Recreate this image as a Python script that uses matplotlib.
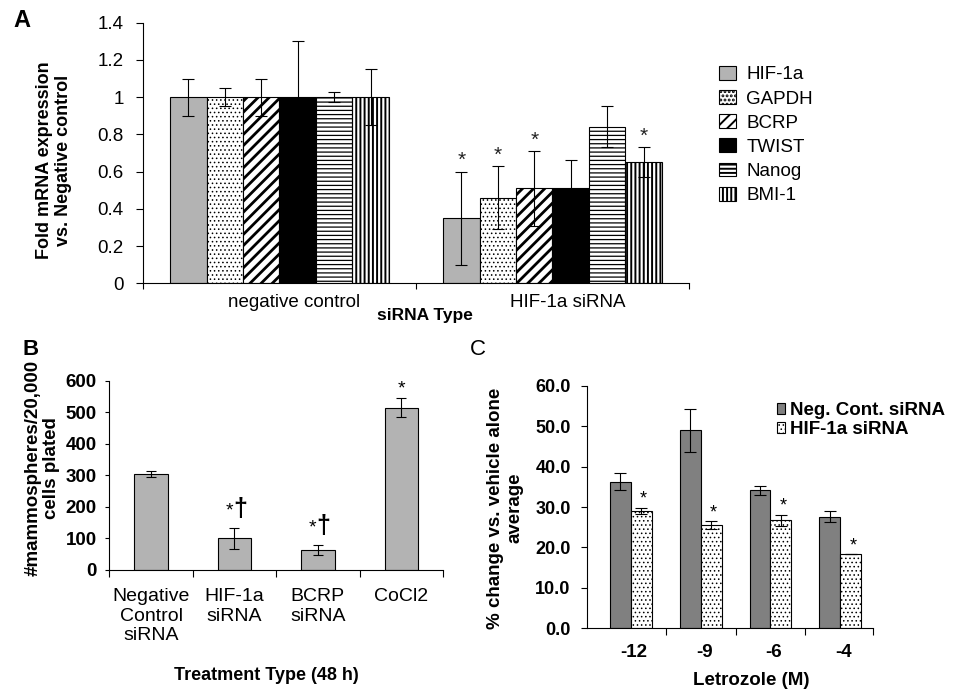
import matplotlib
matplotlib.use("Agg")
import matplotlib.pyplot as plt
import numpy as np
from matplotlib.ticker import FuncFormatter

plt.rcParams['font.family'] = ['Liberation Sans', 'DejaVu Sans']
plt.rcParams['axes.linewidth'] = 0.8
plt.rcParams['hatch.color'] = 'black'

# Panel A - fold mRNA expression vs negative control
sirna_types = ["negative control", "HIF-1a siRNA"]
genes = ["HIF-1a", "GAPDH", "BCRP", "TWIST", "Nanog", "BMI-1"]
neg_ctrl_fold = [1.0, 1.0, 1.0, 1.0, 1.0, 1.0]
neg_ctrl_err = [0.10, 0.05, 0.10, 0.30, 0.025, 0.15]
hif_fold = [0.35, 0.46, 0.51, 0.51, 0.84, 0.65]
hif_fold_err = [0.25, 0.17, 0.20, 0.15, 0.11, 0.08]
hif_signif = [True, True, True, False, False, True]

# Panel B - mammospheres per 20,000 cells
treatments = ["Negative\nControl\nsiRNA", "HIF-1a\nsiRNA", "BCRP\nsiRNA", "CoCl2"]
mammospheres = [305, 100, 62, 515]
mammo_err = [10, 32, 16, 31]
mammo_marks = ["", "*†", "*†", "*"]

# Panel C - letrozole response
letrozole = ["-12", "-9", "-6", "-4"]
neg_cont_change = [36.3, 49.0, 34.1, 27.6]
neg_cont_err = [2.1, 5.3, 1.1, 1.3]
hif_change = [29.0, 25.5, 26.7, 18.3]
hif_change_err = [0.75, 1.0, 1.4, 0.0]

# fill, hatch, hatch linewidth for each gene
gene_styles = [("#b3b3b3", None, 0.8),
               ("white", "....", 0.6),
               ("white", "///", 2.0),
               ("black", None, 0.8),
               ("white", "----", 0.9),
               ("white", "||||", 1.4)]


def set_hatch_lw(patches, lw):
    for p in patches:
        if hasattr(p, "set_hatch_linewidth"):
            p.set_hatch_linewidth(lw)


def clean_axes(ax):
    ax.spines["top"].set_visible(False)
    ax.spines["right"].set_visible(False)


fig = plt.figure(figsize=(9.55, 6.98), dpi=100)

# ---------------- A ----------------
axA = fig.add_axes([0.1497, 0.5941, 0.5717, 0.3734])
xa = np.arange(len(sirna_types))
w = 0.1335
for i, gene in enumerate(genes):
    face, hatch, hlw = gene_styles[i]
    plt.rcParams['hatch.linewidth'] = hlw
    xs = xa + (i - 2.5) * w
    vals = [neg_ctrl_fold[i], hif_fold[i]]
    errs = [neg_ctrl_err[i], hif_fold_err[i]]
    bars = axA.bar(xs, vals, w, color=face, edgecolor="black", linewidth=0.8,
                   hatch=hatch, label=gene, zorder=2)
    set_hatch_lw(bars, hlw)
    axA.errorbar(xs, vals, yerr=errs, fmt="none", ecolor="black",
                 elinewidth=0.8, capsize=4, capthick=0.8, zorder=3)
    if hif_signif[i]:
        axA.annotate("*", (xs[1], hif_fold[i] + hif_fold_err[i]), xytext=(0, 4),
                     textcoords="offset points", ha="center", va="baseline",
                     fontsize=15, color="#222222")

axA.set_xlim(-0.5, 1.5)
axA.set_ylim(0, 1.4)
axA.set_yticks(np.arange(0, 1.41, 0.2))
axA.yaxis.set_major_formatter(FuncFormatter(lambda v, p: f"{v:g}"))
axA.set_xticks(xa + 0.055, sirna_types)
axA.set_xticks([-0.5, 0.5, 1.5], minor=True)
axA.tick_params(axis="x", which="major", length=0, pad=8, labelsize=13.5)
axA.tick_params(axis="x", which="minor", length=4, width=0.8)
axA.tick_params(axis="y", length=5, width=0.8, pad=9, labelsize=13.5)
clean_axes(axA)
axA.text(0.516, -0.122, "siRNA Type", transform=axA.transAxes, ha="center",
         va="center", fontsize=12.5, fontweight="bold")
axA.text(-0.163, 0.471, "Fold mRNA expression\nvs. Negative control",
         transform=axA.transAxes, rotation=90, ha="center", va="center",
         fontsize=13, fontweight="bold", linespacing=1.15)
axA.legend(loc="upper left", bbox_to_anchor=(0.7529, 0.9054),
           bbox_transform=fig.transFigure, frameon=False, fontsize=13.5,
           handlelength=0.9, handleheight=0.75, handletextpad=0.55,
           labelspacing=0.36, borderpad=0, borderaxespad=0)
fig.text(13 / 955, 1 - 9 / 698, "A", fontsize=17, fontweight="bold",
         ha="left", va="top")

# ---------------- B ----------------
axB = fig.add_axes([0.1145, 0.1834, 0.3494, 0.2712])
xb = np.arange(len(treatments))
plt.rcParams['hatch.linewidth'] = 0.8
axB.bar(xb, mammospheres, 0.4, color="#b3b3b3", edgecolor="black",
        linewidth=0.8, zorder=2)
axB.errorbar(xb, mammospheres, yerr=mammo_err, fmt="none", ecolor="black",
             elinewidth=0.8, capsize=3.5, capthick=0.8, zorder=3)
for x, v, e, mark in zip(xb, mammospheres, mammo_err, mammo_marks):
    if "†" in mark:
        axB.annotate("*", (x, v + e), xytext=(-1, 9), textcoords="offset points",
                     ha="right", va="baseline", fontsize=14)
        axB.annotate("†", (x, v + e), xytext=(-1, 9), textcoords="offset points",
                     ha="left", va="baseline", fontsize=18, fontweight="bold")
    elif mark:
        axB.annotate(mark, (x, v + e), xytext=(0, 3), textcoords="offset points",
                     ha="center", va="baseline", fontsize=14)
axB.set_xlim(-0.5, 3.5)
axB.set_ylim(0, 600)
axB.set_yticks(np.arange(0, 601, 100))
axB.set_xticks(xb, treatments)
axB.set_xticks(np.arange(-0.5, 3.6, 1.0), minor=True)
axB.tick_params(axis="x", which="major", length=0, pad=13, labelsize=14)
axB.tick_params(axis="x", which="minor", length=5, width=0.8)
axB.tick_params(axis="y", length=3, width=0.8, pad=6, labelsize=13.5)
for lab in axB.get_yticklabels():
    lab.set_fontweight("bold")
clean_axes(axB)
axB.text(0.47, -0.555, "Treatment Type (48 h)", transform=axB.transAxes,
         ha="center", va="center", fontsize=13, fontweight="bold")
axB.text(-0.2017, 0.541, "#mammospheres/20,000\ncells plated",
         transform=axB.transAxes, rotation=90, ha="center", va="center",
         fontsize=13.5, fontweight="bold", linespacing=1.1)
fig.text(23 / 955, 1 - 339 / 698, "B", fontsize=16, fontweight="bold",
         ha="left", va="top")

# ---------------- C ----------------
axC = fig.add_axes([0.6143, 0.0998, 0.3001, 0.3476])
xc = np.arange(len(letrozole))
plt.rcParams['hatch.linewidth'] = 0.6
dark = axC.bar(xc - 0.15, neg_cont_change, 0.3, color="#808080",
               edgecolor="black", linewidth=0.8, zorder=2,
               label="Neg. Cont. siRNA")
light = axC.bar(xc + 0.15, hif_change, 0.3, color="white", edgecolor="black",
                linewidth=0.8, hatch="....", zorder=2, label="HIF-1a siRNA")
set_hatch_lw(light, 0.6)
axC.errorbar(xc - 0.15, neg_cont_change, yerr=neg_cont_err, fmt="none",
             ecolor="black", elinewidth=0.8, capsize=4, capthick=0.8, zorder=3)
axC.errorbar(xc + 0.15, hif_change, yerr=hif_change_err, fmt="none",
             ecolor="black", elinewidth=0.8, capsize=4, capthick=0.8, zorder=3)
for x, v, e in zip(xc, hif_change, hif_change_err):
    axC.annotate("*", (x + 0.18, v + e), xytext=(0, 3), textcoords="offset points",
                 ha="center", va="baseline", fontsize=13)
axC.set_xlim(-0.63, 3.47)
axC.set_ylim(0, 60)
axC.set_yticks(np.arange(0, 61, 10))
axC.yaxis.set_major_formatter(FuncFormatter(lambda v, p: f"{v:.1f}"))
axC.set_xticks(xc + 0.05, letrozole)
axC.set_xticks([0.5, 1.5, 2.5, 3.47], minor=True)
axC.tick_params(axis="x", which="major", length=0, pad=11, labelsize=13.5)
axC.tick_params(axis="x", which="minor", length=5, width=0.8)
axC.tick_params(axis="y", length=4.5, width=0.8, pad=7, labelsize=13)
for lab in axC.get_yticklabels() + axC.get_xticklabels():
    lab.set_fontweight("bold")
clean_axes(axC)
axC.text(0.573, -0.213, "Letrozole (M)", transform=axC.transAxes,
         ha="center", va="center", fontsize=13.5, fontweight="bold")
axC.text(-0.283, 0.496, "% change vs. vehicle alone\naverage",
         transform=axC.transAxes, rotation=90, ha="center", va="center",
         fontsize=13.5, fontweight="bold", linespacing=1.2)
axC.legend(loc="upper left", bbox_to_anchor=(0.8136, 0.4241),
           bbox_transform=fig.transFigure, frameon=False,
           prop={"weight": "bold", "size": 13.5},
           handlelength=0.45, handleheight=0.5, handletextpad=0.25,
           labelspacing=0.1, borderpad=0, borderaxespad=0)
fig.text(470 / 955, 1 - 339 / 698, "C", fontsize=16, ha="left", va="top")

fig.savefig("out.png", dpi=100)
